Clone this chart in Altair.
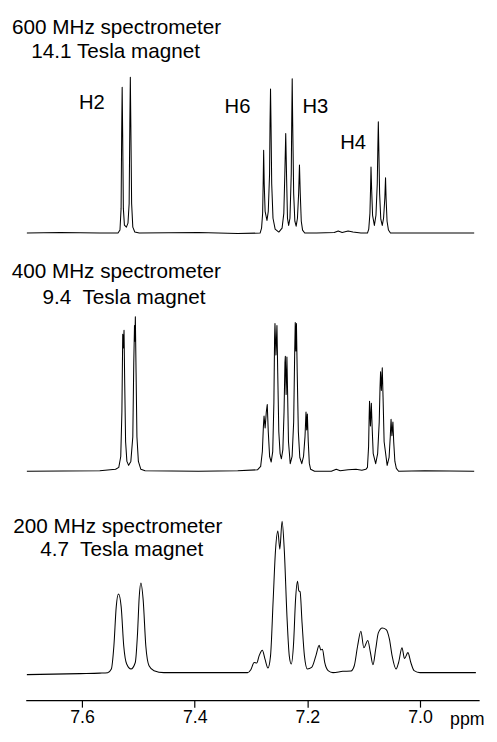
import altair as alt
import pandas as pd

# ---- data (ppm, intensity above baseline) ----
SPEC_600 = [
    (7.6980, 0), (7.6385, 0.5), (7.5685, 0), (7.5362, 0), (7.5327, 3), (7.5307, 25),
    (7.5297, 100), (7.5288, 148), (7.5279, 100), (7.5267, 25), (7.5248, 8), (7.5213, 6),
    (7.5185, 10), (7.5164, 30), (7.5152, 110), (7.5143, 158), (7.5134, 110), (7.5120, 30),
    (7.5099, 6), (7.5064, 1), (7.4985, 0), (7.3936, 0.5), (7.3236, -0.5),
    (7.2839, 0), (7.2813, 5), (7.2794, 20), (7.2783, 55), (7.2776, 84), (7.2766, 50),
    (7.2750, 22), (7.2717, 12.7), (7.2694, 22), (7.2671, 60), (7.2663, 110), (7.2654, 146),
    (7.2645, 110), (7.2633, 50), (7.2610, 15), (7.2572, 4), (7.2507, 1), (7.2449, 5),
    (7.2418, 20), (7.2400, 60), (7.2384, 101), (7.2370, 60), (7.2353, 15), (7.2332, 7.7),
    (7.2309, 15), (7.2286, 60), (7.2278, 110), (7.2269, 156.5), (7.2260, 110), (7.2243, 40),
    (7.2222, 12), (7.2199, 7), (7.2176, 15), (7.2155, 40), (7.2140, 69), (7.2126, 40),
    (7.2108, 12), (7.2085, 3), (7.2047, 0), (7.1837, 0), (7.1522, 0.5), (7.1452, 2),
    (7.1382, 0.5), (7.1277, 2), (7.1190, 1), (7.1050, 0),
    (7.0933, 0), (7.0910, 4), (7.0889, 20), (7.0878, 45), (7.0870, 67), (7.0859, 45),
    (7.0842, 18), (7.0810, 7.7), (7.0782, 18), (7.0759, 50), (7.0749, 85), (7.0740, 113),
    (7.0731, 85), (7.0717, 40), (7.0696, 14), (7.0670, 7.7), (7.0647, 15), (7.0625, 35),
    (7.0612, 56), (7.0602, 35), (7.0585, 12), (7.0560, 3), (7.0525, 0), (6.9913, 0),
    (6.9038, 0),
]

SPEC_400 = [
    (7.6980, 0), (7.5685, 0.5), (7.5405, 2), (7.5348, 4), (7.5313, 15), (7.5293, 60),
    (7.5278, 139), (7.5267, 125), (7.5255, 143), (7.5243, 90), (7.5227, 30), (7.5204, 10),
    (7.5173, 6), (7.5134, 10), (7.5099, 35), (7.5082, 110), (7.5069, 148), (7.5062, 132),
    (7.5054, 156.7), (7.5041, 100), (7.5026, 35), (7.5000, 10), (7.4956, 2), (7.4881, 0.5),
    (7.3936, 0), (7.3236, 0.5), (7.2886, 1.5),
    (7.2829, 5), (7.2799, 20), (7.2781, 45), (7.2769, 56), (7.2750, 44), (7.2729, 60),
    (7.2712, 67.7), (7.2694, 40), (7.2670, 15), (7.2642, 9.4), (7.2615, 20), (7.2594, 70),
    (7.2582, 135), (7.2575, 150), (7.2558, 118), (7.2540, 148), (7.2526, 100), (7.2507, 40),
    (7.2484, 18), (7.2461, 12.7), (7.2435, 22), (7.2414, 60), (7.2398, 110), (7.2391, 116.7),
    (7.2377, 78), (7.2363, 116), (7.2351, 80), (7.2335, 30), (7.2304, 7.7), (7.2271, 15),
    (7.2243, 50), (7.2225, 120), (7.2215, 151), (7.2204, 122), (7.2194, 150), (7.2180, 100),
    (7.2160, 40), (7.2134, 14), (7.2099, 7.7), (7.2068, 15), (7.2042, 35), (7.2024, 60),
    (7.2012, 42), (7.2000, 58), (7.1984, 30), (7.1965, 8), (7.1942, 2), (7.1872, 0),
    (7.1574, 0), (7.1487, 2), (7.1417, 0.5), (7.1277, 1.5), (7.1137, 2), (7.1032, 1),
    (7.0962, 2),
    (7.0933, 4), (7.0913, 25), (7.0903, 55), (7.0896, 71), (7.0880, 46), (7.0864, 69),
    (7.0850, 45), (7.0831, 18), (7.0787, 7.7), (7.0752, 18), (7.0724, 50), (7.0710, 85),
    (7.0700, 101), (7.0686, 82), (7.0670, 105), (7.0656, 75), (7.0637, 30), (7.0583, 6),
    (7.0549, 14), (7.0528, 35), (7.0514, 52.7), (7.0499, 36), (7.0481, 50), (7.0467, 30),
    (7.0446, 10), (7.0420, 3), (7.0380, 0), (6.9913, 0.5), (6.9038, 0),
]

SPEC_200 = [
    (7.6980, -2), (7.6035, -1), (7.5685, -0.5), (7.5545, 0), (7.5480, 3.7), (7.5435, 27),
    (7.5393, 67), (7.5353, 79.7), (7.5306, 67), (7.5260, 27), (7.5208, 8.7), (7.5131, 3.7),
    (7.5055, 10.3), (7.5015, 40), (7.4985, 77), (7.4956, 91), (7.4915, 73.7), (7.4868, 27),
    (7.4811, 7), (7.4723, 2), (7.4548, 0), (7.3236, 0), (7.3061, 0),
    (7.3004, 3), (7.2944, 10.3), (7.2899, 9.7), (7.2857, 17), (7.2799, 22.7), (7.2752, 13.7),
    (7.2699, 4.7), (7.2654, 17), (7.2607, 73.7), (7.2566, 123.7), (7.2524, 143.7),
    (7.2489, 125.3), (7.2449, 153.7), (7.2409, 123.7), (7.2362, 57), (7.2321, 17),
    (7.2286, 8.7), (7.2244, 30.3), (7.2210, 73.7), (7.2175, 92.7), (7.2152, 83), (7.2129, 82),
    (7.2094, 50.3), (7.2052, 17), (7.2000, 3.7), (7.1924, 5.3), (7.1849, 17), (7.1790, 27.7),
    (7.1762, 23), (7.1732, 23.7), (7.1692, 10.3), (7.1632, 2), (7.1545, 0), (7.1370, 1.3),
    (7.1225, 1.7), (7.1167, 7), (7.1108, 27), (7.1050, 42), (7.0997, 25.3), (7.0927, 32.7),
    (7.0880, 20.3), (7.0835, 8), (7.0787, 23.7), (7.0740, 40.3), (7.0670, 45.3),
    (7.0600, 43.7), (7.0542, 33.7), (7.0495, 17), (7.0425, 3.7), (7.0380, 10.3),
    (7.0320, 25.3), (7.0275, 14.3), (7.0215, 20.3), (7.0163, 10.3), (7.0105, 2), (7.0000, 0),
    (6.9008, 0),
]

TITLES_600 = ["600 MHz spectrometer", "14.1 Tesla magnet"]
TITLES_400 = ["400 MHz spectrometer", "9.4\u00a0 Tesla magnet"]
TITLES_200 = ["200 MHz spectrometer", "4.7\u00a0 Tesla magnet"]
PEAK_LABELS = ["H2", "H6", "H3", "H4"]
TICKS = [7.6, 7.4, 7.2, 7.0]
AXIS_TITLE = "ppm"
X_DOMAIN = [6.895, 7.7]

FONT = "Liberation Sans"
W = 460


def spectrum(spec, ydom, interp, axis):
    df = pd.DataFrame(spec, columns=["ppm", "i"])
    df["idx"] = range(len(df))
    return alt.Chart(df).mark_line(
        color="black", strokeWidth=1.05, interpolate=interp, strokeJoin="round"
    ).encode(
        x=alt.X("ppm:Q", scale=alt.Scale(domain=X_DOMAIN, reverse=True, nice=False, zero=False),
                axis=axis),
        y=alt.Y("i:Q", scale=alt.Scale(domain=ydom, nice=False, zero=False), axis=None),
        order=alt.Order("idx:Q"),
    )


def label(text, x, y, size=21):
    return alt.Chart(pd.DataFrame({"t": [text]})).mark_text(
        align="left", baseline="alphabetic", fontSize=size, font=FONT, color="black"
    ).encode(text="t:N", x=alt.value(x), y=alt.value(y))


bottom_axis = alt.Axis(
    values=TICKS, format=".1f", grid=False,
    labelFont=FONT, labelFontSize=18, labelColor="black", labelPadding=2, labelFlush=False,
    tickColor="black", tickSize=7, tickWidth=1.2,
    domainColor="black", domainWidth=1.3,
    title=AXIS_TITLE, titleFont=FONT, titleFontSize=18, titleFontWeight="normal",
    titleColor="black", titleX=430, titleY=25, titleAlign="left", titleBaseline="alphabetic",
)

p1 = alt.layer(
    spectrum(SPEC_600, [-9, 221], "linear", None),
    label(TITLES_600[0], -14, 19.3),
    label(TITLES_600[1], 5.7, 43.3),
    label(PEAK_LABELS[0], 54, 95, 20.5),
    label(PEAK_LABELS[1], 201.7, 99.3, 20.5),
    label(PEAK_LABELS[2], 280.7, 99.3, 20.5),
    label(PEAK_LABELS[3], 319, 136, 20.5),
).properties(width=W, height=230)

p2 = alt.layer(
    spectrum(SPEC_400, [-12.3, 232.7], "linear", None),
    label(TITLES_400[0], -14.3, 36.7),
    label(TITLES_400[1], 17, 63),
).properties(width=W, height=245)

p3 = alt.layer(
    spectrum(SPEC_200, [-28, 192], "monotone", bottom_axis),
    label(TITLES_200[0], -12.7, 50),
    label(TITLES_200[1], 14.7, 73.3),
).properties(width=W, height=220)

chart = alt.vconcat(p1, p2, p3, spacing=0, bounds="flush").resolve_scale(
    x="independent", y="independent"
).properties(
    autosize=alt.AutoSizeParams(type="pad"),
    padding={"left": 3, "top": 2, "right": 4, "bottom": 4},
).configure_view(stroke=None)

chart.save("out.html", embed_options={"renderer": "svg", "actions": False})
